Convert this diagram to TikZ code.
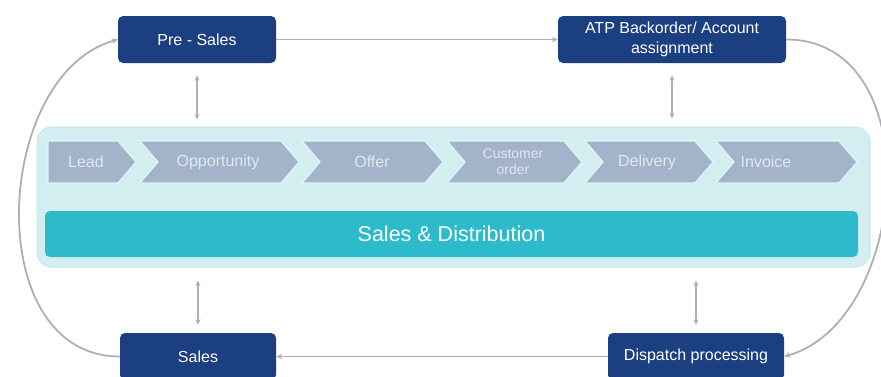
\documentclass[tikz,border=0pt]{standalone}
\usepackage{fontspec}
\setmainfont{Liberation Sans}
\usetikzlibrary{arrows.meta,calc}
\definecolor{navy}{HTML}{1B3F80}
\definecolor{lgray}{HTML}{ABB0B8}
\definecolor{contfill}{HTML}{D3EEF1}
\definecolor{contline}{HTML}{C3E7EC}
\definecolor{chevfill}{HTML}{A2B3CA}
\definecolor{chevtext}{HTML}{E2E8F0}
\definecolor{gapcol}{HTML}{E4F5F7}
\definecolor{teal}{HTML}{2DBBCB}
\tikzset{
  navybox/.style={fill=navy, rounded corners=5pt, text=white, inner sep=0pt,
    align=center, font=\fontsize{16}{20}\selectfont},
  chev/.style={fill=chevfill, draw=gapcol, line width=1.2pt},
  chevlabel/.style={text=chevtext, inner sep=0pt, align=center, font=\fontsize{16}{19}\selectfont},
  conn/.style={draw=lgray, line width=1.8pt, -{Stealth[length=6pt,width=5.5pt]}},
  dbl/.style={draw=lgray, line width=1.8pt, {Stealth[length=5.5pt,width=5pt]}-{Stealth[length=5.5pt,width=5pt]}}
}
\begin{document}
\begin{tikzpicture}[x=1pt,y=-1pt]
\clip (0,0) rectangle (881,376);
\fill[white] (0,0) rectangle (881,376);

% container
\node[fill=contfill, draw=contline, line width=1pt, rounded corners=15pt,
  minimum width=833pt, minimum height=140pt, inner sep=0pt] (container) at (453.5,197) {};

% chevrons
\fill[chev] (48,141) -- (118,141) -- (136,162) -- (118,183) -- (48,183) -- cycle;
\fill[chev] (140,141) -- (281,141) -- (299,162) -- (281,183) -- (140,183) -- (158,162) -- cycle;
\fill[chev] (302,141) -- (425,141) -- (443,162) -- (425,183) -- (302,183) -- (320,162) -- cycle;
\fill[chev] (447,141) -- (564,141) -- (582,162) -- (564,183) -- (447,183) -- (465,162) -- cycle;
\fill[chev] (585,141) -- (695,141) -- (713,162) -- (695,183) -- (585,183) -- (603,162) -- cycle;
\fill[chev] (716,141) -- (839,141) -- (857,162) -- (839,183) -- (716,183) -- (734,162) -- cycle;

\node[chevlabel] (lead) at (86,162) {Lead};
\node[chevlabel] (opp) at (218,162) {Opportunity};
\node[chevlabel] (offer) at (372,162) {Offer};
\node[chevlabel, font=\fontsize{14}{16}\selectfont] (custorder) at (513,162) {Customer\\order};
\node[chevlabel] (delivery) at (647,162) {Delivery};
\node[chevlabel] (invoice) at (766,162) {Invoice};

% bar
\node[fill=teal, rounded corners=5pt, minimum width=813pt, minimum height=46pt, inner sep=0pt,
  text=white, font=\fontsize{21.5}{24}\selectfont] (sd) at (451.5,234) {Sales \& Distribution};

% boxes
\node[navybox, minimum width=158pt, minimum height=47pt] (presales) at (197,39.5) {Pre - Sales};
\node[navybox, minimum width=228pt, minimum height=47pt] (atp) at (672,39.5) {ATP Backorder/ Account\\assignment};
\node[navybox, minimum width=156pt, minimum height=47pt] (sales) at (198,356.5) {Sales};
\node[navybox, minimum width=176pt, minimum height=47pt] (dispatch) at (696,356.5) {Dispatch processing};

% connectors
\draw[conn] (presales.east) -- (atp.west);
\draw[conn] (dispatch.west) -- (sales.east);
\draw[conn] (atp.east) .. controls +(145,0) and +(125,-35) .. (dispatch.east);
\draw[conn] (sales.west) .. controls +(-140,0) and +(-125,35) .. (presales.west);

\draw[dbl, shorten <=12pt, shorten >=7pt] (presales.south) -- (presales.south |- container.north);
\draw[dbl, shorten <=12pt, shorten >=8pt] (atp.south) -- (atp.south |- container.north);
\draw[dbl, shorten <=13pt, shorten >=8pt] (container.south -| sales.north) -- (sales.north);
\draw[dbl, shorten <=13pt, shorten >=8pt] (container.south -| dispatch.north) -- (dispatch.north);
\end{tikzpicture}
\end{document}
